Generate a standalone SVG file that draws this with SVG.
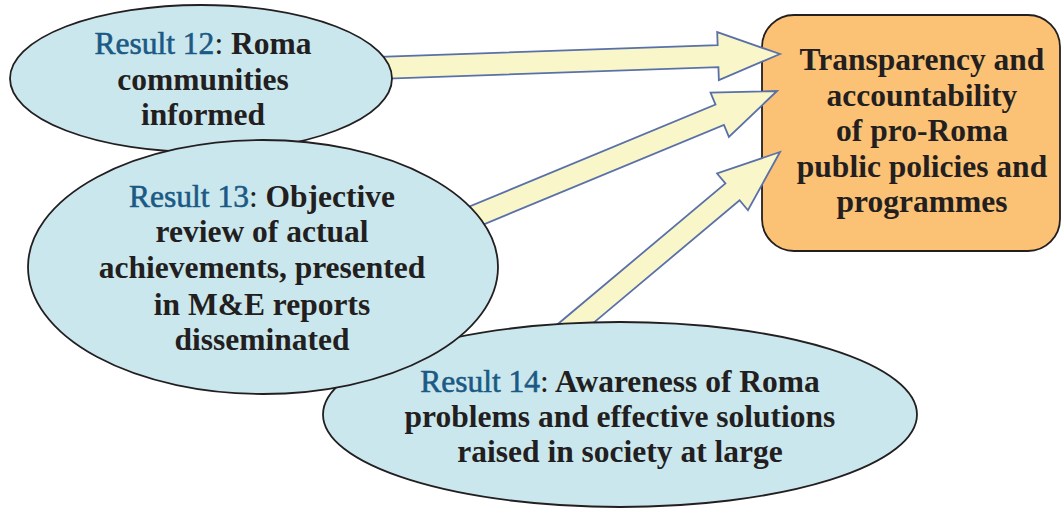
<svg xmlns="http://www.w3.org/2000/svg" width="1062" height="509" viewBox="0 0 1062 509">
<style>
.ell{fill:#CBE7EE;stroke:#231F20;stroke-width:1.8}
.box{fill:#FBC175;stroke:#231F20;stroke-width:1.8}
.arr{fill:#F9F7C9;stroke:#5A70A8;stroke-width:1.8;stroke-linejoin:miter}
.t{font-family:"Liberation Serif","Times New Roman",serif;font-size:31.5px;font-weight:bold;fill:#231F20;text-anchor:middle}
.r{fill:#1B5A84;font-weight:normal;stroke:#1B5A84;stroke-width:0.6}
.c{font-weight:normal}
</style>
<rect width="1062" height="509" fill="#FFFFFF"/>
<g id="outcome">
<rect class="box" x="762" y="15" width="298" height="236" rx="32" ry="32"/>
<text class="t" x="922" y="70">Transparency and</text>
<text class="t" x="922" y="106">accountability</text>
<text class="t" x="922" y="141">of pro-Roma</text>
<text class="t" x="922" y="177">public policies and</text>
<text class="t" x="922" y="212">programmes</text>
</g>
<g id="connectors">
<path class="arr" transform="translate(780,54) rotate(178.02)" d="M0,0 L62,-24 L62,-11 L400,-11 L400,11 L62,11 L62,24 Z"/>
<path class="arr" transform="translate(777,91) rotate(157.5)" d="M0,0 L62,-24 L62,-11 L340,-11 L340,11 L62,11 L62,24 Z"/>
<path class="arr" transform="translate(780,152) rotate(140)" d="M0,0 L62,-24 L62,-11 L290,-11 L290,11 L62,11 L62,24 Z"/>
</g>
<g id="result12">
<ellipse class="ell" cx="201" cy="78.5" rx="191" ry="73.5"/>
<text class="t" x="203" y="54"><tspan class="r">Result 12</tspan><tspan class="c">:</tspan> Roma</text>
<text class="t" x="203" y="90">communities</text>
<text class="t" x="203" y="125">informed</text>
</g>
<g id="result14">
<ellipse class="ell" cx="620" cy="414.5" rx="297" ry="92.5"/>
<text class="t" x="620" y="392"><tspan class="r">Result 14</tspan><tspan class="c">:</tspan> Awareness of Roma</text>
<text class="t" x="620" y="427">problems and effective solutions</text>
<text class="t" x="620" y="462">raised in society at large</text>
</g>
<g id="result13">
<ellipse class="ell" cx="263" cy="267" rx="235" ry="127"/>
<text class="t" x="262" y="207"><tspan class="r">Result 13</tspan><tspan class="c">:</tspan> Objective</text>
<text class="t" x="262" y="242">review of actual</text>
<text class="t" x="262" y="278">achievements, presented</text>
<text class="t" x="262" y="315">in M&amp;E reports</text>
<text class="t" x="262" y="350">disseminated</text>
</g>
</svg>
